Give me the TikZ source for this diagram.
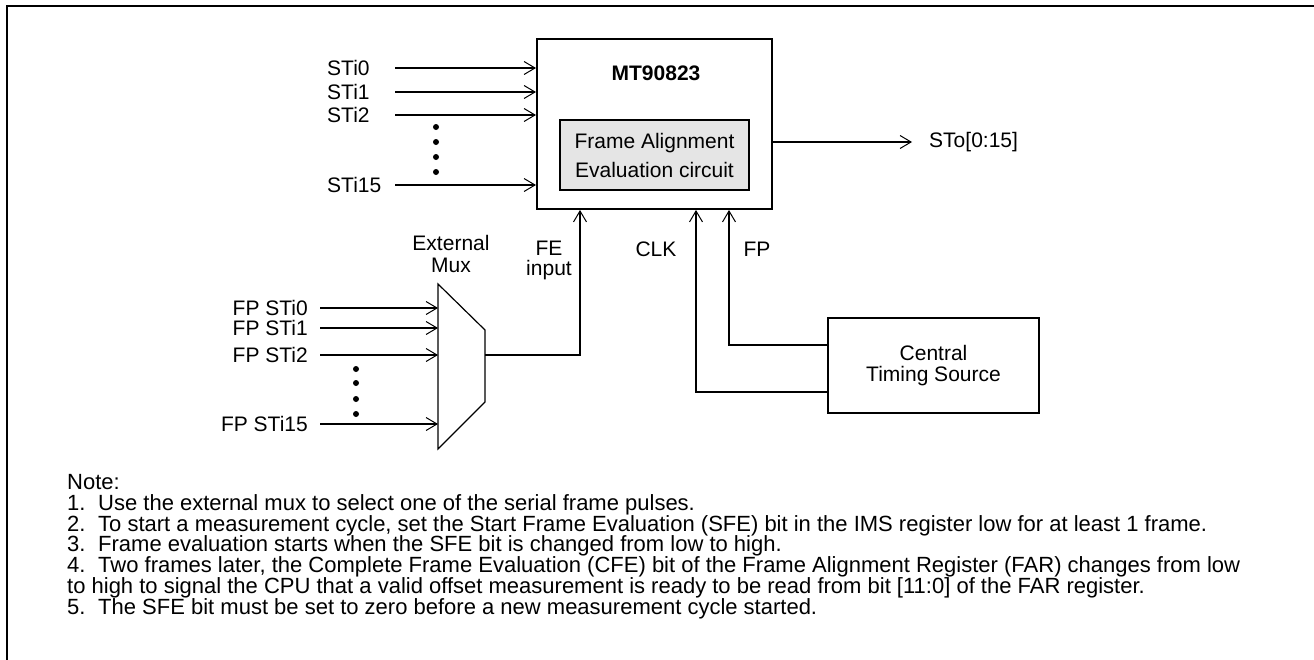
\documentclass[tikz,border=0pt]{standalone}
\usepackage{fontspec}
\setmainfont{Liberation Sans}
\usetikzlibrary{arrows.meta,calc}
\begin{document}
\begin{tikzpicture}[x=1pt,y=-1pt,
  every node/.style={font=\fontsize{21}{21}\selectfont, inner sep=0pt},
  wire/.style={line width=1.6pt},
  arr/.style={wire,-{Straight Barb[length=11pt,width=13pt,line width=1pt]}},
  blk/.style={draw,line width=2pt,rectangle},
  dot/.style={fill,circle,minimum size=6pt,inner sep=0pt},
  lbl/.style={align=center}]
\useasboundingbox (0,0) rectangle (1314,659);
\fill[white] (0,0) rectangle (1314,659);
% outer frame
\draw[line width=2pt] (1320,6) -- (7,6) -- (7,665);
% MT90823 box
\node[blk,minimum width=235pt,minimum height=170pt] (mt) at (654.5,124) {};
\node[font=\fontsize{21}{21}\selectfont\bfseries] (mtl) at (656,73) {MT90823};
\node[blk,fill=black!10,minimum width=189pt,minimum height=70pt,align=center,
      font=\fontsize{21}{29}\selectfont] (fa) at (654.5,155) {Frame Alignment\\Evaluation circuit};
% STi inputs
\foreach \n/\y in {0/68,1/92,2/115,15/185}{
  \node[anchor=west] (sl\n) at (327,\y) {STi\n};
  \coordinate (ss\n) at (395,\y);
  \draw[arr] (ss\n) -- (ss\n -| mt.west);
}
\foreach \i/\y in {1/127,2/142,3/157,4/172}{ \node[dot] (da\i) at (436,\y) {}; }
% STo output
\coordinate (stoend) at (912,142);
\draw[arr] (mt.east |- stoend) -- (stoend);
\node[anchor=west] (sto) at (929,142) {STo[0:15]};
% External mux
\coordinate (m1) at (438,284);
\coordinate (m2) at (485,330);
\coordinate (m3) at (485,402);
\coordinate (m4) at (438,449);
\draw[line width=1.2pt] (m1) -- (m2) -- (m3) -- (m4) -- cycle;
\coordinate (muxout) at (485,355);
\node[lbl,font=\fontsize{21}{22}\selectfont] (muxl) at (451,254) {External\\Mux};
\foreach \n/\y in {0/308,1/328,2/355,15/424}{
  \node[anchor=east] (fl\n) at (308,\y) {FP STi\n};
  \coordinate (fs\n) at (320,\y);
  \draw[arr] (fs\n) -- (fs\n -| m1);
}
\foreach \i/\y in {1/369,2/383,3/399,4/414}{ \node[dot] (db\i) at (356,\y) {}; }
\draw[arr] (muxout) -| (580,209 |- mt.south);
\node[lbl,font=\fontsize{21}{20}\selectfont] (fel) at (549,260) {FE\\input};
% Central timing source
\node[blk,minimum width=211pt,minimum height=95pt,align=center,
      font=\fontsize{21}{21}\selectfont] (cts) at (933.5,365.5) {Central\\Timing Source};
\coordinate (clkx) at (696,392);
\coordinate (fpx) at (729,345);
\draw[arr] (cts.west |- clkx) -| (clkx |- mt.south);
\draw[arr] (cts.west |- fpx) -| (fpx |- mt.south);
\node (clkl) at (656,249) {CLK};
\node (fpl) at (757,249) {FP};
% notes
\node[anchor=north west,align=left,font=\fontsize{22}{20.7}\selectfont] (notes) at (67,474.5) {%
Note:\\
\makebox[31pt][l]{1.}Use the external mux to select one of the serial frame pulses.\\
\makebox[31pt][l]{2.}To start a measurement cycle, set the Start Frame Evaluation (SFE) bit in the IMS register low for at least 1 frame.\\
\makebox[31pt][l]{3.}Frame evaluation starts when the SFE bit is changed from low to high.\\
\makebox[31pt][l]{4.}Two frames later, the Complete Frame Evaluation (CFE) bit of the Frame Alignment Register (FAR) changes from low\\
to high to signal the CPU that a valid offset measurement is ready to be read from bit [11:0] of the FAR register.\\
\makebox[31pt][l]{5.}The SFE bit must be set to zero before a new measurement cycle started.};
\end{tikzpicture}
\end{document}
